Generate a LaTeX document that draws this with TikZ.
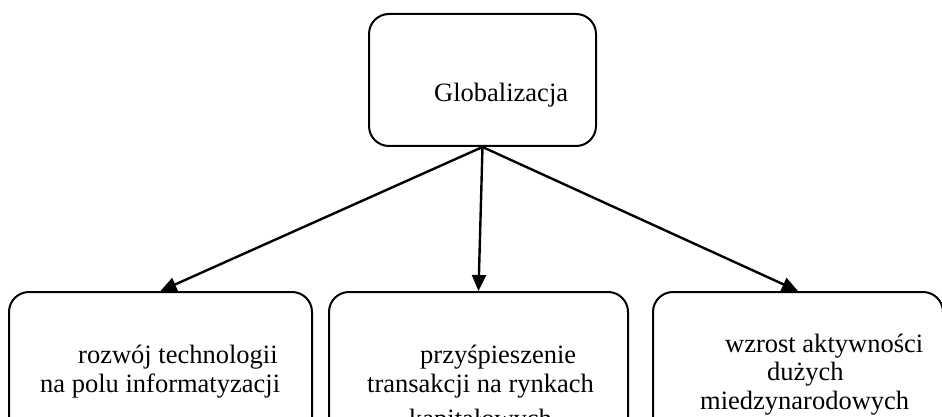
\documentclass[tikz,border=0pt]{standalone}
\usepackage{fontspec}
\setmainfont{Liberation Serif}
\usetikzlibrary{arrows.meta}
\begin{document}
\begin{tikzpicture}[x=1pt,y=-1pt,
  box/.style={draw=black, line width=2pt, rounded corners=20pt, rectangle, inner sep=0pt},
  txt/.style={anchor=base west, inner sep=0pt, font=\fontsize{26.5}{30}\selectfont},
  conn/.style={line width=2.4pt, -{Triangle[length=16pt,width=14pt]}}]
\clip (0,0) rectangle (942,417);
\fill[white] (0,0) rectangle (942,417);
\node[box, minimum width=227pt, minimum height=132pt] (top) at (482.5,80) {};
\node[box, minimum width=303pt, minimum height=148pt] (left) at (160.5,366) {};
\node[box, minimum width=299pt, minimum height=148pt] (mid) at (478.5,366) {};
\node[box, minimum width=290pt, minimum height=148pt] (right) at (798,366) {};
\node[txt] (tg) at (434,102) {Globalizacja};
\node[txt] (l1) at (78,363) {rozwój technologii};
\node[txt] (l2) at (40,392) {na polu informatyzacji};
\node[txt] (m1) at (420,363) {przyśpieszenie};
\node[txt] (m2) at (367,392) {transakcji na rynkach};
\node[txt] (m3) at (409,427) {kapitałowych};
\node[txt] (r1) at (725,352) {wzrost aktywności};
\node[txt] (r2) at (767,380) {dużych};
\node[txt] (r3) at (700,409) {miedzynarodowych};
\draw[conn] (top.south) -- (left.north);
\draw[conn] (top.south) -- (mid.north);
\draw[conn] (top.south) -- (right.north);
\end{tikzpicture}
\end{document}
